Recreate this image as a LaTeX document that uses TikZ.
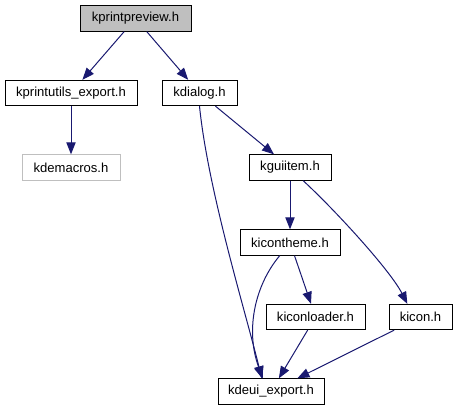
\documentclass[tikz,border=0pt]{standalone}
\usepackage{fontspec}
\setmainfont{Liberation Sans}
\usetikzlibrary{arrows.meta}
\definecolor{edgeblue}{HTML}{191970}
\definecolor{boxgray}{HTML}{BFBFBF}
\begin{document}
\begin{tikzpicture}[x=0.75pt, y=-0.75pt, line width=0.75pt,
        hdr/.style = {draw, rectangle, minimum width=#1*0.75pt, minimum height=19pt, inner sep=0pt, font=\fontsize{9.8}{12}\selectfont},
        dep/.style = {draw=edgeblue, -{Triangle[length=9pt,width=7pt]}}]
        \useasboundingbox (0,0) rectangle (458,411);
        \node[hdr=111, fill=boxgray] (pp) at (135.5,18.5) {kprintpreview.h};
        \node[hdr=132] (pu) at (71,93) {kprintutils\_export.h};
        \node[hdr=75] (dlg) at (199.5,93) {kdialog.h};
        \node[hdr=98, draw=boxgray] (km) at (71,167.5) {kdemacros.h};
        \node[hdr=82] (gi) at (290,167.5) {kguiitem.h};
        \node[hdr=100] (it) at (290,242.5) {kicontheme.h};
        \node[hdr=99] (il) at (315.5,317) {kiconloader.h};
        \node[hdr=63] (ic) at (420.5,317) {kicon.h};
        \node[hdr=106] (ue) at (271,391.5) {kdeui\_export.h};
        \draw[dep] (pp) -- (pu);
        \draw[dep] (pp) -- (dlg);
        \draw[dep] (pu) -- (km);
        \draw[dep] (dlg) -- (gi);
        \draw[dep] (dlg.south) .. controls (208,190) and (245,310) .. (ue.125);
        \draw[dep] (gi) -- (it);
        \draw[dep] (gi.-45) .. controls (335,210) and (390,270) .. (ic.135);
        \draw[dep] (it.-128) .. controls (255,285) and (245,330) .. (ue.122);
        \draw[dep] (it) -- (il);
        \draw[dep] (il) -- (ue);
        \draw[dep] (ic) -- (ue);
    \end{tikzpicture}
\end{document}
